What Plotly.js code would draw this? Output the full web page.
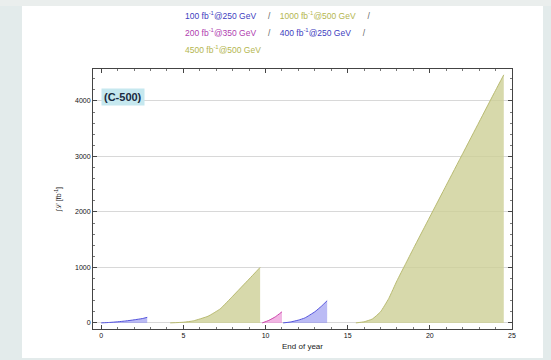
<!DOCTYPE html>
<html>
<head>
<meta charset="utf-8">
<script src="https://cdn.plot.ly/plotly-3.0.1.min.js"></script>
<style>
  html, body { margin: 0; padding: 0; width: 551px; height: 360px; overflow: hidden; background: #e3ebeb; }
  #topband { position: absolute; left: 0; top: 0; width: 551px; height: 6px; background: #eaeeed; }
  #panel { position: absolute; left: 22px; top: 6px; width: 521px; height: 352px; background: #ffffff; }
  #chart { position: absolute; left: 0; top: 0; width: 551px; height: 360px; }
</style>
</head>
<body>
<div id="topband"></div>
<div id="panel"></div>
<div id="chart"></div>
<script>
// Cumulative integrated luminosity (fb^-1) at the end of each year, per running stage
const stage1Years = [0, 0.5, 1, 1.5, 2, 2.5, 2.8];
const stage1Lumi  = [0, 8, 20, 35, 55, 78, 100];

const stage2Years = [4.2, 5, 5.6, 6.5, 7.24, 8, 9, 9.67];
const stage2Lumi  = [0, 12, 36, 120, 252, 480, 790, 1000];

const stage3Years = [9.8, 10.2, 10.6, 11.0];
const stage3Lumi  = [0, 45, 110, 200];

const stage4Years = [11.07, 11.5, 12.0, 12.4, 13.0, 13.4, 13.75];
const stage4Lumi  = [0, 15, 50, 90, 200, 300, 400];

const stage5Years = [15.5, 16, 16.5, 17, 17.5, 18, 18.5, 19, 20, 21, 22, 23, 24, 24.5];
const stage5Lumi  = [0, 20, 70, 200, 440, 760, 1050, 1340, 1910, 2480, 3050, 3620, 4190, 4470];

const xTicks = [0, 5, 10, 15, 20, 25];
const yTicks = [0, 1000, 2000, 3000, 4000];

const blue = '#5555dd', blueFill = 'rgba(150,150,240,0.65)';
const olive = '#b9bb72', oliveFill = 'rgba(205,207,150,0.8)';
const pink = '#cc44aa', pinkFill = 'rgba(235,150,215,0.7)';

function stage(x, y, line, fill) {
  return { x: x, y: y, type: 'scatter', mode: 'lines', fill: 'tozeroy',
           line: { color: line, width: 1, shape: 'spline', smoothing: 0.4 },
           fillcolor: fill, hoverinfo: 'skip' };
}

const data = [
  stage(stage1Years, stage1Lumi, blue, blueFill),
  stage(stage2Years, stage2Lumi, olive, oliveFill),
  stage(stage3Years, stage3Lumi, pink, pinkFill),
  stage(stage4Years, stage4Lumi, blue, blueFill),
  stage(stage5Years, stage5Lumi, olive, oliveFill)
];

const sep = '<span style="color:#666">\u00a0\u00a0\u00a0\u00a0\u00a0/\u00a0\u00a0\u00a0\u00a0</span>';
const cBlue = '#4040c0', cOlive = '#b4b650', cPink = '#b040b0';
const legendLines = [
  '<span style="color:' + cBlue + '">100 fb<sup>-1</sup>@250 GeV</span>' + sep +
  '<span style="color:' + cOlive + '">1000 fb<sup>-1</sup>@500 GeV</span>' + sep,
  '<span style="color:' + cPink + '">200 fb<sup>-1</sup>@350 GeV</span>' + sep +
  '<span style="color:' + cBlue + '">400 fb<sup>-1</sup>@250 GeV</span>' + sep,
  '<span style="color:' + cOlive + '">4500 fb<sup>-1</sup>@500 GeV</span>'
];
const legendY = [1.205, 1.14, 1.075];

const annotations = legendLines.map((t, i) => ({
  xref: 'paper', yref: 'paper', x: 0.215, y: legendY[i], xanchor: 'left', yanchor: 'middle',
  text: t, showarrow: false, font: { family: 'Liberation Sans, Arial, sans-serif', size: 8.5 }
}));
annotations.push({
  xref: 'paper', yref: 'paper', x: 0.019, y: 0.893, xanchor: 'left', yanchor: 'middle',
  text: '<b>(C-500)</b>', showarrow: false, bgcolor: '#c6e8ef', borderpad: 2,
  font: { family: 'Liberation Sans, Arial, sans-serif', size: 11, color: '#1a2a40' }
});

const axisFont = { family: 'Liberation Sans, Arial, sans-serif', size: 7, color: '#111' };

const layout = {
  width: 551, height: 360,
  margin: { l: 93, r: 39, t: 69, b: 31 },
  paper_bgcolor: 'rgba(0,0,0,0)', plot_bgcolor: '#ffffff',
  showlegend: false,
  xaxis: {
    range: [-0.5, 25], tickvals: xTicks, ticktext: xTicks.map(String),
    ticks: 'inside', ticklen: 4, tickcolor: '#444', showline: true, linecolor: '#444', linewidth: 1,
    mirror: 'allticks', showgrid: false, zeroline: false, tickfont: axisFont,
    minor: { dtick: 1, ticks: 'inside', ticklen: 2, tickcolor: '#777', showgrid: false },
    title: { text: 'End of year', font: { family: 'Liberation Sans, Arial, sans-serif', size: 8, color: '#222' }, standoff: 4 }
  },
  yaxis: {
    range: [-110, 4575], tickvals: yTicks, ticktext: yTicks.map(String),
    ticks: 'inside', ticklen: 4, tickcolor: '#444', showline: true, linecolor: '#444', linewidth: 1,
    mirror: 'allticks', showgrid: true, gridcolor: '#d8d8d8', gridwidth: 1, zeroline: false,
    tickfont: axisFont,
    minor: { dtick: 200, ticks: 'inside', ticklen: 2, tickcolor: '#777', showgrid: false },
    title: { text: '∫ℒ [fb<sup>-1</sup>]', font: { family: 'Liberation Sans, Arial, sans-serif', size: 7, color: '#222' }, standoff: 12 }
  },
  annotations: annotations
};

Plotly.newPlot('chart', data, layout, { staticPlot: true, displayModeBar: false });
</script>
</body>
</html>
